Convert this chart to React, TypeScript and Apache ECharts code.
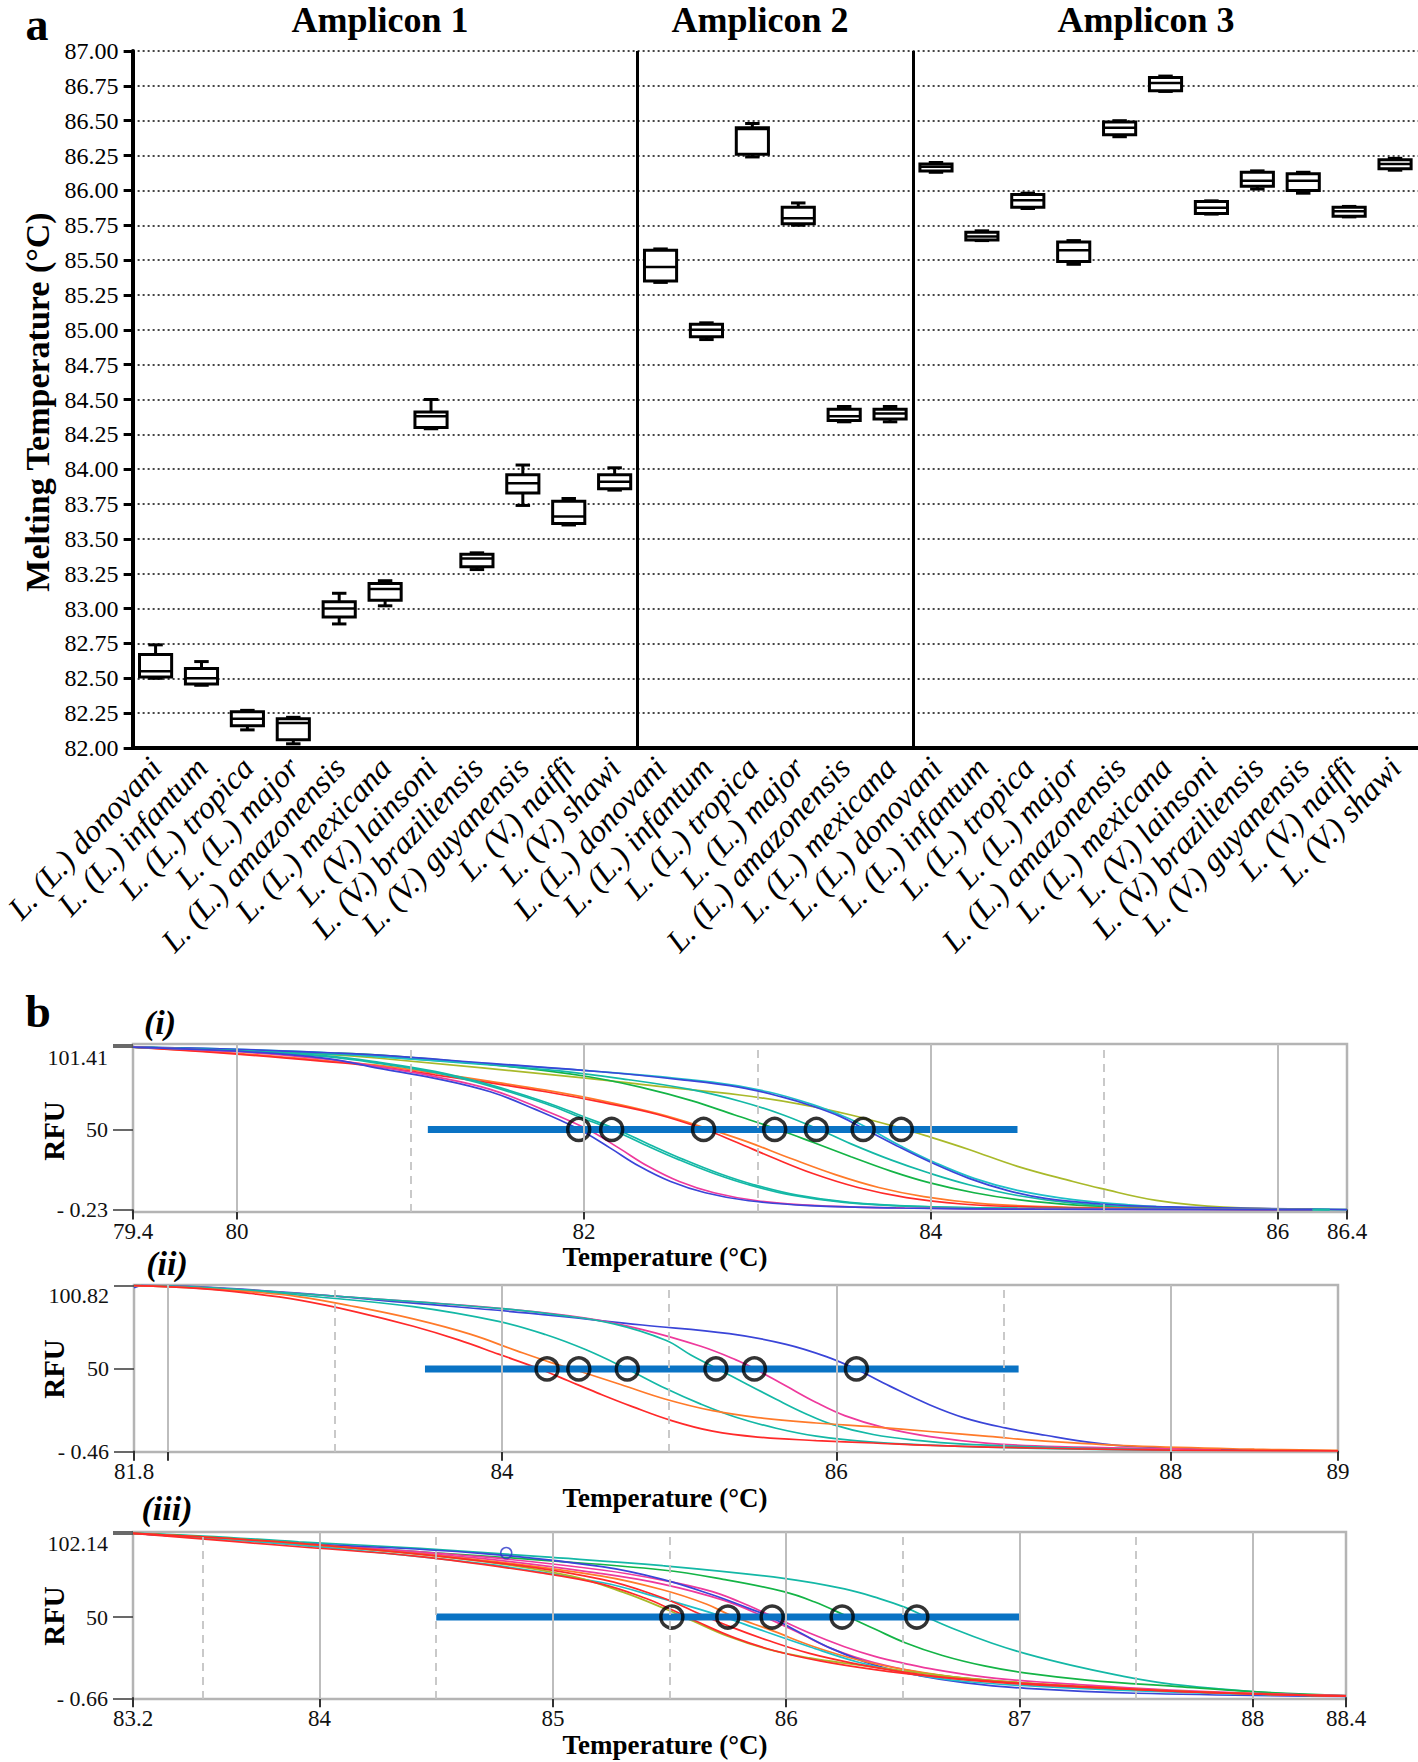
import React, { useEffect, useRef } from 'react';
import * as echarts from 'echarts';

const FONT = '"Liberation Serif", "Times New Roman", serif';

// ---------- Panel a : melting temperature box plots ----------
const amp1Species = ['L. (L.) donovani', 'L. (L.) infantum', 'L. (L.) tropica', 'L. (L.) major', 'L. (L.) amazonensis', 'L. (L.) mexicana', 'L. (V.) lainsoni', 'L. (V.) braziliensis', 'L. (V.) guyanensis', 'L. (V.) naiffi', 'L. (V.) shawi'];
const amp2Species = ['L. (L.) donovani', 'L. (L.) infantum', 'L. (L.) tropica', 'L. (L.) major', 'L. (L.) amazonensis', 'L. (L.) mexicana'];
const amp3Species = ['L. (L.) donovani', 'L. (L.) infantum', 'L. (L.) tropica', 'L. (L.) major', 'L. (L.) amazonensis', 'L. (L.) mexicana', 'L. (V.) lainsoni', 'L. (V.) braziliensis', 'L. (V.) guyanensis', 'L. (V.) naiffi', 'L. (V.) shawi'];
const ampliconTitles = ['Amplicon 1', 'Amplicon 2', 'Amplicon 3'];

// [min, q1, median, q3, max]
const amp1Tm = [
  [82.50, 82.51, 82.55, 82.67, 82.74],
  [82.45, 82.46, 82.50, 82.57, 82.62],
  [82.13, 82.16, 82.21, 82.26, 82.27],
  [82.03, 82.06, 82.18, 82.21, 82.22],
  [82.89, 82.94, 83.00, 83.05, 83.11],
  [83.02, 83.06, 83.14, 83.18, 83.20],
  [84.29, 84.30, 84.38, 84.41, 84.50],
  [83.28, 83.30, 83.36, 83.39, 83.40],
  [83.74, 83.83, 83.90, 83.96, 84.03],
  [83.60, 83.61, 83.66, 83.77, 83.79],
  [83.85, 83.86, 83.91, 83.96, 84.01],
];
const amp2Tm = [
  [85.34, 85.35, 85.45, 85.57, 85.58],
  [84.93, 84.95, 85.00, 85.04, 85.05],
  [86.24, 86.26, 86.44, 86.45, 86.48],
  [85.75, 85.76, 85.80, 85.88, 85.91],
  [84.34, 84.35, 84.38, 84.43, 84.45],
  [84.34, 84.36, 84.40, 84.43, 84.45],
];
const amp3Tm = [
  [86.13, 86.14, 86.17, 86.19, 86.20],
  [85.64, 85.645, 85.67, 85.70, 85.71],
  [85.87, 85.88, 85.93, 85.97, 85.98],
  [85.47, 85.49, 85.57, 85.63, 85.64],
  [86.385, 86.40, 86.45, 86.49, 86.50],
  [86.71, 86.715, 86.77, 86.81, 86.82],
  [85.83, 85.835, 85.875, 85.92, 85.925],
  [86.01, 86.03, 86.07, 86.13, 86.14],
  [85.98, 86.00, 86.07, 86.12, 86.13],
  [85.81, 85.815, 85.85, 85.88, 85.885],
  [86.145, 86.155, 86.19, 86.22, 86.23],
];
const tmAxisMin = 82;
const tmAxisMax = 87;
const tmAxisStep = 0.25;

// ---------- Panel b : melt curves (Temperature, RFU) ----------
// (i)
const iXLabels = [79.4, 80, 82, 84, 86, 86.4];
const iYLabels = [-0.23, 50, 101.41];
const iYTicks = [-0.23, 50, 101.41, 103.0];
const iSolidGrid = [80, 82, 84, 86];
const iDashedGrid = [81, 83, 85];
const iThresholdBar = [81.1, 84.5];
const iTm = [81.97, 82.16, 82.69, 83.10, 83.34, 83.61, 83.83];
const iBlueEarly = [[79.4, 101.4], [80.0, 98.8], [80.5, 94.5], [80.82, 88.1], [81.14, 81.9], [81.46, 73.5], [81.72, 62.5], [81.96, 50.7], [82.15, 38.5], [82.32, 27.0], [82.50, 17.5], [82.70, 10.5], [82.95, 5.5], [83.30, 2.5], [83.80, 1.0], [84.6, 0.3], [86.2, 0]];
const iMagenta = [[79.4, 101.4], [80.0, 98.5], [80.5, 94.0], [80.82, 89.0], [81.14, 83.0], [81.46, 75.0], [81.75, 63.0], [82.01, 50.7], [82.20, 38.5], [82.37, 27.0], [82.55, 17.5], [82.75, 10.5], [83.00, 5.5], [83.35, 2.5], [83.85, 1.0], [84.7, 0.3], [86.2, 0]];
const iTealEarly = [[79.4, 101.4], [80.0, 99.0], [80.5, 95.5], [80.82, 91.2], [81.14, 85.5], [81.46, 77.0], [81.78, 66.0], [81.98, 57.5], [82.16, 50.0], [82.35, 40.5], [82.55, 31.0], [82.75, 22.5], [82.95, 15.5], [83.20, 9.0], [83.50, 4.5], [83.90, 2.0], [84.5, 0.7], [86.3, 0]];
const iTealEarly2 = [[79.4, 101.4], [80.0, 99.2], [80.5, 96.0], [80.82, 91.8], [81.14, 86.2], [81.46, 77.8], [81.78, 67.0], [82.01, 57.5], [82.19, 50.0], [82.38, 40.5], [82.58, 31.0], [82.78, 22.5], [82.98, 15.5], [83.23, 9.0], [83.53, 4.5], [83.93, 2.0], [84.5, 0.8], [86.3, 0]];
const iRed = [[79.4, 101.4], [80.0, 97.0], [80.5, 92.5], [80.82, 89.1], [81.14, 84.0], [81.46, 79.0], [81.78, 73.5], [82.10, 67.0], [82.42, 59.5], [82.68, 50.7], [82.88, 42.0], [83.08, 32.8], [83.32, 22.5], [83.58, 13.8], [83.86, 7.5], [84.18, 3.5], [84.50, 1.8], [85.00, 0.7], [86.0, 0]];
const iOrange = [[79.4, 101.4], [80.0, 97.5], [80.5, 93.0], [80.82, 90.0], [81.14, 85.2], [81.46, 80.0], [81.78, 74.5], [82.10, 68.0], [82.42, 60.0], [82.71, 50.7], [82.94, 42.4], [83.19, 32.0], [83.45, 21.8], [83.70, 13.8], [83.96, 8.1], [84.28, 3.9], [84.66, 1.8], [85.3, 0.5], [86.2, 0]];
const iGreen = [[79.4, 101.4], [80.0, 99.5], [80.5, 97.8], [80.82, 96.4], [81.46, 90.5], [82.01, 83.2], [82.36, 75.5], [82.62, 68.0], [82.87, 59.0], [83.10, 50.7], [83.32, 42.0], [83.54, 33.0], [83.77, 24.0], [83.99, 16.8], [84.25, 10.5], [84.50, 6.2], [84.82, 3.0], [85.30, 1.2], [86.2, 0]];
const iTealMid = [[79.4, 101.4], [80.0, 99.5], [80.5, 97.2], [80.82, 95.4], [81.78, 87.3], [82.26, 81.0], [82.62, 74.8], [82.90, 67.6], [83.13, 59.8], [83.34, 50.7], [83.54, 41.0], [83.77, 31.0], [83.99, 22.8], [84.22, 15.5], [84.50, 8.8], [84.82, 4.0], [85.14, 1.8], [86.2, 0]];
const iBlueLate = [[79.4, 101.4], [80.0, 100.0], [80.5, 98.0], [80.82, 96.4], [81.46, 91.2], [82.10, 86.0], [82.58, 80.8], [82.90, 76.2], [83.13, 70.6], [83.32, 64.5], [83.48, 58.0], [83.61, 50.7], [83.80, 40.0], [84.00, 29.5], [84.22, 19.5], [84.44, 12.0], [84.66, 7.0], [84.98, 3.5], [85.30, 1.8], [86.4, 0]];
const iCyanLate = [[79.4, 101.4], [80.0, 100.0], [80.5, 98.0], [80.82, 95.4], [82.10, 86.0], [82.74, 79.5], [83.06, 73.5], [83.32, 65.5], [83.51, 57.6], [83.64, 50.7], [83.83, 39.5], [84.02, 29.5], [84.25, 19.5], [84.50, 12.0], [84.82, 6.2], [85.14, 3.0], [85.5, 1.0], [86.4, 0]];
const iOlive = [[79.4, 101.4], [80.0, 99.5], [80.5, 97.0], [80.82, 94.4], [82.01, 82.0], [82.42, 77.0], [82.90, 71.5], [83.26, 65.5], [83.54, 59.0], [83.83, 50.7], [83.99, 45.5], [84.22, 37.5], [84.50, 27.0], [84.82, 17.5], [84.98, 13.2], [85.30, 5.8], [85.69, 1.5], [86.4, 0]];

// (ii)
const iiXLabels = [81.8, 84, 86, 88, 89];
const iiXTicks = [81.8, 82, 84, 86, 88, 89];
const iiYLabels = [-0.46, 50, 100.82];
const iiSolidGrid = [82, 84, 86, 88];
const iiDashedGrid = [83, 85, 87];
const iiThresholdBar = [83.54, 87.09];
const iiTm = [84.27, 84.46, 84.75, 85.28, 85.51, 86.12];
const iiRed = [[81.8, 100.8], [82.2, 99.0], [82.5, 96.0], [82.78, 92.1], [83.12, 85.0], [83.47, 76.0], [83.74, 67.7], [83.98, 59.0], [84.23, 49.8], [84.40, 42.6], [84.57, 35.4], [84.78, 27.0], [85.02, 18.3], [85.26, 12.0], [85.53, 8.4], [85.88, 6.3], [86.22, 4.8], [86.56, 3.3], [87.25, 1.6], [88.0, 0.5], [89.0, 0]];
const iiOrange = [[81.8, 100.8], [82.2, 99.2], [82.5, 97.0], [82.78, 94.1], [83.12, 88.0], [83.47, 80.5], [83.81, 71.2], [84.09, 61.0], [84.29, 54.0], [84.47, 48.4], [84.71, 40.5], [84.98, 31.5], [85.26, 24.5], [85.53, 20.3], [85.88, 17.0], [86.22, 14.6], [86.56, 11.8], [86.91, 8.8], [87.25, 5.9], [87.77, 3.0], [88.5, 1.0], [89.0, 0.3]];
const iiTeal = [[81.8, 100.8], [82.2, 99.5], [82.5, 97.8], [82.78, 95.1], [83.47, 88.0], [83.98, 79.0], [84.26, 71.0], [84.50, 61.8], [84.74, 50.4], [84.98, 38.0], [85.19, 28.5], [85.40, 20.5], [85.64, 13.8], [85.88, 9.0], [86.22, 5.3], [86.56, 3.5], [87.2, 1.5], [88.0, 0.5]];
const iiTeal2 = [[81.8, 100.8], [82.2, 99.8], [82.78, 96.0], [83.47, 91.0], [84.0, 86.8], [84.33, 83.0], [84.67, 77.5], [84.98, 67.5], [85.13, 58.5], [85.29, 50.0], [85.46, 41.0], [85.64, 31.5], [85.81, 23.0], [85.98, 16.0], [86.22, 10.0], [86.50, 6.2], [86.74, 4.2], [87.3, 2.0], [88.0, 0.5]];
const iiMagenta = [[81.8, 100.8], [82.2, 99.8], [82.78, 96.0], [83.47, 91.0], [84.0, 86.8], [84.50, 81.0], [84.84, 74.0], [85.19, 63.8], [85.40, 55.5], [85.52, 49.6], [85.70, 39.5], [85.88, 29.5], [86.05, 21.5], [86.29, 14.0], [86.56, 8.7], [86.91, 4.6], [87.32, 2.6], [88.3, 0.8]];
const iiBlue = [[81.8, 99.5], [81.85, 100.8], [82.2, 100.0], [82.78, 96.2], [83.47, 90.1], [84.16, 84.0], [84.84, 76.8], [85.36, 71.5], [85.70, 65.0], [85.94, 57.5], [86.12, 49.8], [86.32, 39.5], [86.56, 28.0], [86.77, 20.0], [87.01, 14.0], [87.25, 9.5], [87.53, 5.0], [87.8, 2.5], [88.5, 0.5]];

// (iii)
const iiiXLabels = [83.2, 84, 85, 86, 87, 88, 88.4];
const iiiYLabels = [-0.66, 50, 102.14];
const iiiYTicks = [-0.66, 50, 102.14, 102.9];
const iiiSolidGrid = [84, 85, 86, 87, 88];
const iiiDashedGrid = [83.5, 84.5, 85.5, 86.5, 87.5];
const iiiThresholdBar = [84.5, 87.0];
const iiiTm = [85.51, 85.75, 85.94, 86.24, 86.56];
const iiiMarker = [[84.80, 89.9]];
const iiiTealLate = [[83.2, 102.1], [83.5, 100.5], [83.91, 96.9], [84.43, 92.8], [84.95, 87.6], [85.47, 82.0], [85.99, 74.1], [86.25, 67.5], [86.40, 61.5], [86.51, 56.0], [86.59, 50.7], [86.72, 42.5], [86.88, 33.8], [87.03, 27.0], [87.22, 20.0], [87.42, 13.8], [87.61, 9.0], [87.87, 5.0], [88.1, 2.5], [88.4, 0.5]];
const iiiGreen = [[83.2, 102.1], [83.5, 100.0], [83.91, 95.9], [84.43, 90.7], [84.95, 85.5], [85.47, 79.3], [85.73, 73.5], [85.99, 65.8], [86.12, 59.5], [86.25, 51.2], [86.38, 42.5], [86.51, 34.0], [86.67, 26.0], [86.85, 19.5], [87.03, 15.0], [87.29, 10.7], [87.68, 6.6], [88.0, 3.5], [88.4, 1.0]];
const iiiMagenta = [[83.2, 102.1], [83.91, 95.9], [84.69, 87.6], [85.21, 79.3], [85.47, 73.0], [85.68, 66.0], [85.80, 59.5], [85.93, 51.2], [86.10, 40.0], [86.25, 31.5], [86.38, 25.5], [86.51, 21.0], [86.64, 17.2], [86.90, 11.8], [87.29, 7.6], [87.8, 3.5], [88.4, 1.0]];
const iiiMagenta2 = [[83.2, 102.1], [83.91, 95.5], [84.69, 86.5], [85.21, 77.0], [85.47, 70.5], [85.73, 60.5], [85.89, 51.2], [86.05, 40.5], [86.20, 30.0], [86.38, 21.5], [86.64, 14.0], [87.03, 8.7], [87.5, 4.5], [88.4, 0.8]];
const iiiBlue = [[83.2, 102.1], [83.91, 96.0], [84.69, 89.7], [85.21, 81.4], [85.47, 73.5], [85.68, 64.0], [85.84, 55.4], [85.93, 50.2], [86.05, 41.0], [86.20, 30.0], [86.38, 20.0], [86.57, 13.5], [86.77, 9.0], [87.03, 5.5], [87.5, 2.5], [88.4, 0.5]];
const iiiOrange = [[83.2, 102.1], [83.91, 95.5], [84.69, 85.5], [85.21, 75.5], [85.47, 67.0], [85.66, 58.0], [85.76, 51.2], [85.94, 41.5], [86.12, 31.5], [86.31, 23.2], [86.51, 17.2], [86.77, 11.8], [87.16, 7.6], [87.7, 3.5], [88.4, 0.8]];
const iiiTeal = [[83.2, 102.1], [83.91, 94.8], [84.69, 83.4], [85.21, 71.5], [85.47, 61.5], [85.63, 54.8], [85.73, 50.2], [85.89, 42.0], [86.10, 31.5], [86.31, 21.8], [86.51, 15.2], [86.77, 9.8], [87.16, 6.2], [87.7, 3.0], [88.4, 0.6]];
const iiiRed = [[83.2, 102.1], [83.91, 93.8], [84.43, 87.6], [84.95, 77.5], [85.21, 70.5], [85.40, 61.5], [85.51, 54.5], [85.62, 47.0], [85.78, 37.0], [85.95, 29.0], [86.15, 22.5], [86.38, 17.2], [86.64, 12.8], [86.90, 9.7], [87.29, 6.6], [87.8, 3.0], [88.4, 0.8]];
const iiiRed2 = [[83.2, 102.1], [83.91, 95.9], [84.69, 85.0], [85.21, 73.5], [85.47, 62.0], [85.62, 52.5], [85.76, 44.0], [85.92, 35.5], [86.10, 27.3], [86.30, 20.8], [86.51, 15.5], [86.77, 10.8], [87.16, 7.0], [87.8, 3.0], [88.4, 0.6]];
const iiiOlive = [[83.2, 102.1], [83.91, 95.9], [84.69, 84.8], [85.08, 75.5], [85.30, 65.5], [85.47, 55.8], [85.60, 47.5], [85.75, 38.0], [85.92, 30.0], [86.10, 24.5], [86.30, 20.3], [86.51, 16.3], [86.77, 12.0], [87.16, 7.6], [87.8, 3.0], [88.4, 0.6]];

const thresholdRFU = 50;

const C = {
  blue: '#3a45d8', magenta: '#ee3a9c', teal: '#14b8a6', cyan: '#1ec0c8', red: '#ff2a2a',
  orange: '#ff7a2a', green: '#14b446', olive: '#a9b92a',
};

function yFmt(v: number) {
  if (v < 0) return '- ' + (-v).toFixed(2);
  if (v === 50) return '50';
  return v.toFixed(2);
}

function buildOption() {
  const species = [...amp1Species, ...amp2Species, ...amp3Species];
  const boxes = [...amp1Tm, ...amp2Tm, ...amp3Tm].map((b, i) => [i, ...b]);
  const boundaries = [amp1Species.length, amp1Species.length + amp2Species.length];

  const panels = [
    {
      grid: { left: 133, top: 1044, width: 1214, height: 168 },
      xMin: 79.4, xMax: 86.4, yMin: -1.5, yMax: 103.3,
      xLabels: iXLabels, xTicks: iXLabels, yLabels: iYLabels, yTicks: iYTicks,
      solid: iSolidGrid, dashed: iDashedGrid, bar: iThresholdBar, tm: iTm,
      curves: [
        [iOlive, C.olive], [iGreen, C.green], [iTealMid, C.teal], [iCyanLate, C.cyan], [iBlueLate, C.blue],
        [iOrange, C.orange], [iRed, C.red], [iTealEarly2, C.teal], [iTealEarly, C.teal], [iMagenta, C.magenta], [iBlueEarly, C.blue],
      ],
    },
    {
      grid: { left: 134, top: 1285, width: 1204, height: 167 },
      xMin: 81.8, xMax: 89, yMin: -0.7, yMax: 101.2,
      xLabels: iiXLabels, xTicks: iiXTicks, yLabels: iiYLabels, yTicks: iiYLabels,
      solid: iiSolidGrid, dashed: iiDashedGrid, bar: iiThresholdBar, tm: iiTm,
      curves: [
        [iiBlue, C.blue], [iiMagenta, C.magenta], [iiTeal2, C.teal], [iiTeal, C.teal], [iiOrange, C.orange], [iiRed, C.red],
      ],
    },
    {
      grid: { left: 133, top: 1532, width: 1213, height: 167 },
      xMin: 83.2, xMax: 88.4, yMin: -1.1, yMax: 103.0,
      xLabels: iiiXLabels, xTicks: iiiXLabels, yLabels: iiiYLabels, yTicks: iiiYTicks,
      solid: iiiSolidGrid, dashed: iiiDashedGrid, bar: iiiThresholdBar, tm: iiiTm,
      curves: [
        [iiiTealLate, C.teal], [iiiGreen, C.green], [iiiMagenta, C.magenta], [iiiMagenta2, C.magenta], [iiiBlue, C.blue],
        [iiiOrange, C.orange], [iiiTeal, C.cyan], [iiiOlive, C.olive], [iiiRed2, C.red], [iiiRed, C.red],
      ],
    },
  ];

  const grids: any[] = [{ left: 131, top: 51, width: 1287, height: 697 }];
  const xAxes: any[] = [
    {
      type: 'category', gridIndex: 0, data: species,
      axisLine: { lineStyle: { color: '#000', width: 4 } },
      axisTick: { alignWithLabel: true, interval: 0, length: 10, lineStyle: { color: '#000', width: 3 } },
      axisLabel: { interval: 0, rotate: 47, margin: 14, fontFamily: FONT, fontStyle: 'italic', fontSize: 32, color: '#000' },
      splitLine: { show: false },
    },
    { type: 'value', gridIndex: 0, min: 0, max: species.length, show: false },
  ];
  const yAxes: any[] = [
    {
      type: 'value', gridIndex: 0, min: tmAxisMin, max: tmAxisMax, interval: tmAxisStep,
      axisLine: { show: true, lineStyle: { color: '#000', width: 4 } },
      axisTick: { show: true, length: 9, lineStyle: { color: '#000', width: 3 } },
      axisLabel: { margin: 14, fontFamily: FONT, fontSize: 24, color: '#000', formatter: (v: number) => v.toFixed(2) },
      splitLine: { show: true, lineStyle: { color: '#444', width: 2, type: [2, 3] } },
    },
  ];
  const series: any[] = [
    {
      type: 'custom', xAxisIndex: 0, yAxisIndex: 0, data: boxes, z: 5,
      encode: { x: 0, y: [1, 2, 3, 4, 5] },
      renderItem: (params: any, api: any) => {
        const idx = api.value(0);
        const lo = api.coord([idx, api.value(1)]);
        const q1 = api.coord([idx, api.value(2)]);
        const md = api.coord([idx, api.value(3)]);
        const q3 = api.coord([idx, api.value(4)]);
        const hi = api.coord([idx, api.value(5)]);
        const bw = api.size([1, 0])[0] * 0.7;
        const cw = bw * 0.45;
        const cx = lo[0];
        const st = { stroke: '#000', lineWidth: 3, fill: 'none' };
        return {
          type: 'group',
          children: [
            { type: 'line', shape: { x1: cx, y1: hi[1], x2: cx, y2: q3[1] }, style: st },
            { type: 'line', shape: { x1: cx, y1: q1[1], x2: cx, y2: lo[1] }, style: st },
            { type: 'line', shape: { x1: cx - cw / 2, y1: hi[1], x2: cx + cw / 2, y2: hi[1] }, style: st },
            { type: 'line', shape: { x1: cx - cw / 2, y1: lo[1], x2: cx + cw / 2, y2: lo[1] }, style: st },
            { type: 'rect', shape: { x: cx - bw / 2, y: q3[1], width: bw, height: Math.max(q1[1] - q3[1], 1) }, style: { fill: '#fff', stroke: '#000', lineWidth: 3 } },
            { type: 'line', shape: { x1: cx - bw / 2, y1: md[1], x2: cx + bw / 2, y2: md[1] }, style: { stroke: '#000', lineWidth: 2.5 } },
          ],
        };
      },
    },
    {
      type: 'line', xAxisIndex: 1, yAxisIndex: 0, data: [], z: 4,
      markLine: {
        silent: true, symbol: ['none', 'none'], label: { show: false },
        lineStyle: { color: '#000', width: 3, type: 'solid' },
        data: boundaries.map((b) => ({ xAxis: b })),
      },
    },
  ];

  panels.forEach((p, k) => {
    const gi = k + 1;
    const xi = k + 2;
    const yi = k + 1;
    grids.push({ ...p.grid, show: true, borderColor: '#b4b4b4', borderWidth: 2.5, backgroundColor: 'rgba(0,0,0,0)' });
    xAxes.push({
      type: 'value', gridIndex: gi, min: p.xMin, max: p.xMax,
      axisLine: { show: false },
      axisTick: { show: true, customValues: p.xTicks, length: 10, lineStyle: { color: '#333', width: 2 } },
      axisLabel: { customValues: p.xLabels, margin: 8, fontFamily: FONT, fontSize: 23, color: '#111', formatter: (v: number) => `${v}` },
      splitLine: { show: false },
    });
    yAxes.push({
      type: 'value', gridIndex: gi, min: p.yMin, max: p.yMax,
      axisLine: { show: false },
      axisTick: { show: true, customValues: p.yTicks, length: 20, lineStyle: { color: '#444', width: 1.6 } },
      axisLabel: {
        customValues: p.yLabels, margin: 25, fontFamily: FONT, fontSize: 22, color: '#111',
        formatter: (v: number) => (v > 90 ? `{top|${yFmt(v)}}` : yFmt(v)),
        rich: { top: { fontFamily: FONT, fontSize: 22, color: '#111', padding: [20, 0, 0, 0] } },
      },
      splitLine: { show: false },
    });
    series.push({
      type: 'line', xAxisIndex: xi, yAxisIndex: yi, data: [], z: 1,
      markLine: {
        silent: true, symbol: ['none', 'none'], label: { show: false },
        data: [
          ...p.solid.map((v) => ({ xAxis: v, lineStyle: { color: '#bdbdbd', width: 2, type: 'solid' } })),
          ...p.dashed.map((v) => ({ xAxis: v, lineStyle: { color: '#c4c4c4', width: 1.8, type: [8, 6] } })),
        ],
      },
    });
    p.curves.forEach(([data, color]: any) => {
      series.push({
        type: 'line', xAxisIndex: xi, yAxisIndex: yi, data, showSymbol: false, symbol: 'none',
        smooth: 0.4, z: 2,
        lineStyle: { color, width: 1.7 },
      });
    });
    series.push({
      type: 'line', xAxisIndex: xi, yAxisIndex: yi, z: 3, showSymbol: false, symbol: 'none',
      data: p.bar.map((t) => [t, thresholdRFU]),
      lineStyle: { color: '#0a73c4', width: 7 },
    });
    series.push({
      type: 'scatter', xAxisIndex: xi, yAxisIndex: yi, z: 4,
      data: p.tm.map((t) => [t, thresholdRFU]),
      symbol: 'circle', symbolSize: 22,
      itemStyle: { color: 'rgba(0,0,0,0)', borderColor: '#000', borderWidth: 3.5 },
    });
  });

  series.push({
    type: 'scatter', xAxisIndex: 4, yAxisIndex: 3, z: 4, data: iiiMarker,
    symbol: 'circle', symbolSize: 11,
    itemStyle: { color: 'rgba(0,0,0,0)', borderColor: '#2a36c8', borderWidth: 1.5 },
  });

  const txt = (text: string, x: number, y: number, size: number, opts: any = {}) => ({
    type: 'text', x, y, rotation: opts.rotation || 0, z: 10,
    style: {
      text, fill: '#000', fontFamily: FONT, fontSize: size, fontWeight: opts.weight || 'bold',
      fontStyle: opts.style || 'normal',
      textAlign: 'center', textVerticalAlign: 'middle', align: 'center', verticalAlign: 'middle',
    },
  });

  const titleX = [380, 760, 1146];
  const graphic = [
    txt('a', 37, 24, 46),
    ...ampliconTitles.map((t, i) => txt(t, titleX[i], 20, 36)),
    txt('Melting Temperature (°C)', 37, 402, 34, { rotation: Math.PI / 2 }),
    txt('b', 38, 1011, 46),
    txt('(i)', 160, 1022, 34, { style: 'italic' }),
    txt('(ii)', 167, 1263, 34, { style: 'italic' }),
    txt('(iii)', 167, 1508, 34, { style: 'italic' }),
    txt('RFU', 54, 1131, 29, { rotation: Math.PI / 2 }),
    txt('RFU', 54, 1369, 29, { rotation: Math.PI / 2 }),
    txt('RFU', 54, 1616, 29, { rotation: Math.PI / 2 }),
    txt('Temperature (°C)', 665, 1257, 27),
    txt('Temperature (°C)', 665, 1498, 27),
    txt('Temperature (°C)', 665, 1745, 27),
  ];

  return {
    animation: false,
    backgroundColor: '#fff',
    textStyle: { fontFamily: FONT },
    grid: grids,
    xAxis: xAxes,
    yAxis: yAxes,
    series,
    graphic,
  };
}

export default function App() {
  const ref = useRef<HTMLDivElement>(null);
  useEffect(() => {
    const chart = echarts.init(ref.current as HTMLDivElement, null, { renderer: 'svg' });
    chart.setOption(buildOption() as any);
    return () => chart.dispose();
  }, []);
  return (
    <div
      ref={ref}
      style={{ position: 'absolute', left: 0, top: 0, width: 1418, height: 1762, background: '#fff' }}
    />
  );
}
